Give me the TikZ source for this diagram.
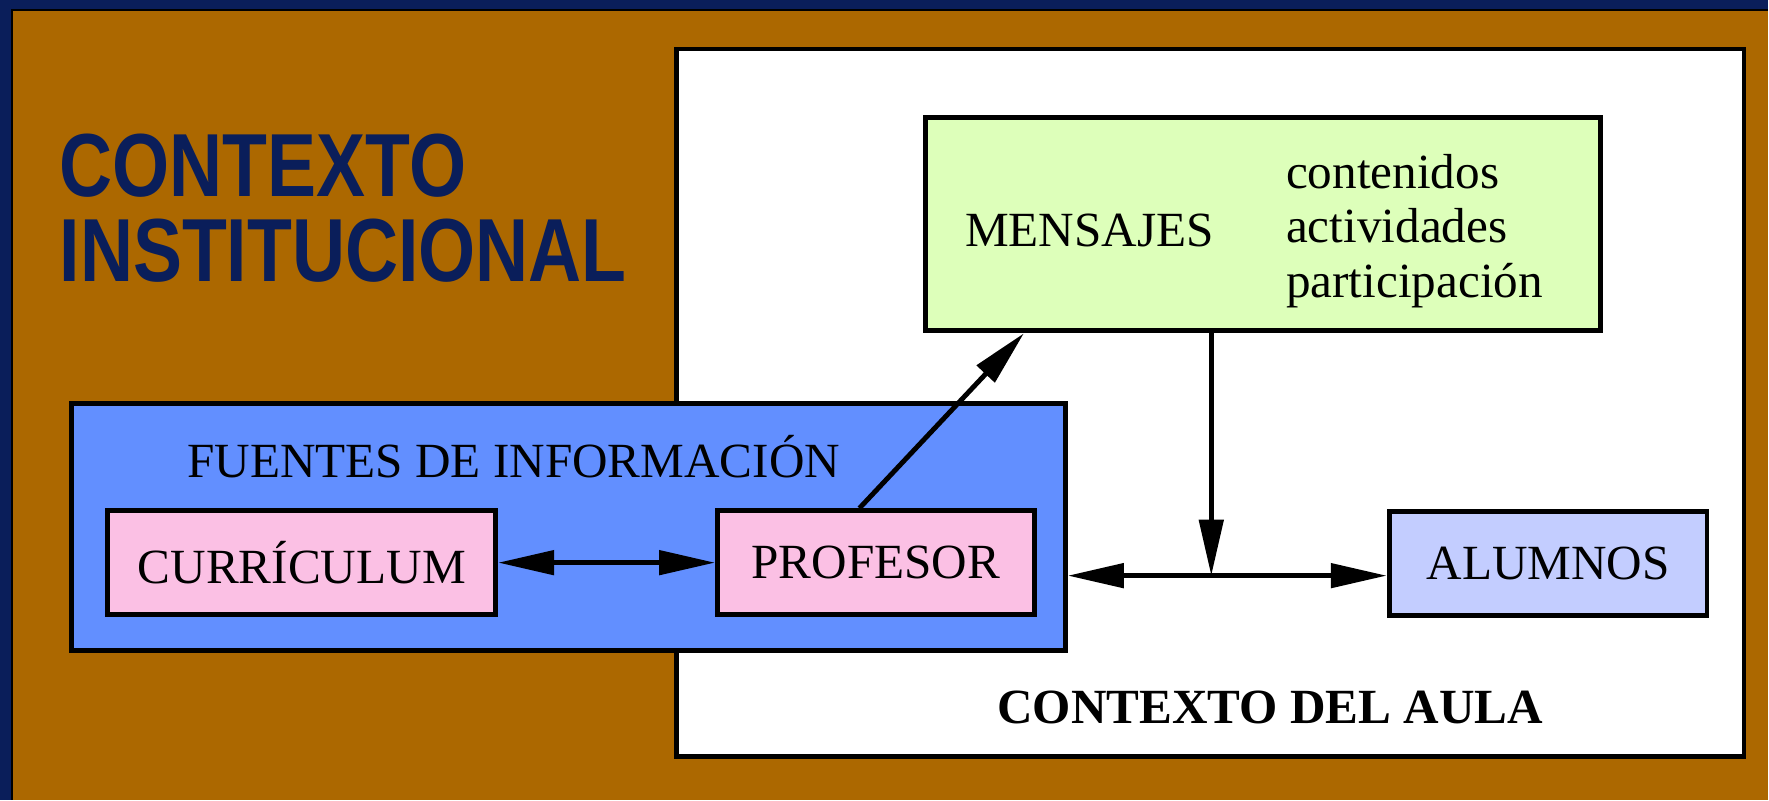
\documentclass[tikz,border=0pt]{standalone}
\usepackage{fontspec}
\setmainfont{Liberation Serif}
\newfontfamily\titlefont{Liberation Sans}
\usepackage{graphicx}
\usepackage{tikz}
\usetikzlibrary{positioning,calc,arrows.meta}
\tikzstyle{panel} = [rectangle, draw=black, line width=1.4pt, inner sep=0pt]
\tikzstyle{element} = [rectangle, draw=black, line width=1.4pt, minimum width=3.17cm, minimum height=1.04cm, text centered, fill=pastelpink]
\tikzstyle{label} = [inner sep=0pt]
\tikzstyle{title} = [text=navyblue, font=\titlefont\bfseries\fontsize{25.5}{30}\selectfont, inner sep=0pt]
\tikzstyle{arrow} = [line width=1.4pt, -{Triangle[length=5.6mm,width=2.4mm]}]
\tikzstyle{dblarrow} = [line width=1.4pt, {Triangle[length=5.6mm,width=2.4mm]}-{Triangle[length=5.6mm,width=2.4mm]}]
\definecolor{navyblue}{RGB}{10,30,90}
\definecolor{ochre}{RGB}{172,104,0}
\definecolor{pastelgreen}{RGB}{221,255,186}
\definecolor{cornflower}{RGB}{98,143,255}
\definecolor{pastelpink}{RGB}{251,192,228}
\definecolor{pastelblue}{RGB}{195,205,255}
\newcommand{\narrowtext}[1]{\scalebox{0.82}[1]{#1}}

\begin{document}
\begin{tikzpicture}[font=\fontsize{14}{15.5}\selectfont]
        % Background -------------------------------------------------------------------------------
        \fill[navyblue] (0,0) rectangle (17.69,8);
        \fill[ochre] (0.12,0) rectangle (17.69,7.90);
        \draw[black, line width=0.6pt] (0.12,0) -- (0.12,7.90) -- (17.69,7.90);
        \useasboundingbox (0,0) rectangle (17.69,8);
        % Institutional context --------------------------------------------------------------------
        \node[title, anchor=base west](inst_top) at (0.59,6.03){\narrowtext{CONTEXTO}};
        \node[title, anchor=base west](inst_bottom) at (0.59,5.18){\narrowtext{INSTITUCIONAL}};
        % Classroom context ------------------------------------------------------------------------
        \node[panel, fill=white, minimum width=10.68cm, minimum height=7.08cm](aula) at (12.11,3.97){};
        \node[label, font=\bfseries\fontsize{14}{15}\selectfont](aula_label) at (12.71,0.92){CONTEXTO DEL AULA};
        % Messages
        \node[panel, fill=pastelgreen, minimum width=6.75cm, minimum height=2.13cm](mensajes) at (12.635,5.755){};
        \node[label, anchor=west](mensajes_label) at (9.65,5.69){MENSAJES};
        \node[label, align=left, right=0.71cm of mensajes_label](mensajes_list){contenidos\\actividades\\participación};
        % Students
        \node[element, fill=pastelblue, minimum width=3.18cm](alumnos) at (15.49,2.365){ALUMNOS};
        % Information sources ----------------------------------------------------------------------
        \node[panel, fill=cornflower, minimum width=9.94cm, minimum height=2.47cm](fuentes) at (5.69,2.725){};
        \node[label](fuentes_label) at (5.14,3.43){FUENTES DE INFORMACIÓN};
        \node[element, minimum width=3.88cm](curriculum) at (3.02,2.37){CURRÍCULUM};
        \node[element, right=2.17cm of curriculum](profesor){PROFESOR};
        % Arrows -----------------------------------------------------------------------------------
        \coordinate (junction) at (12.12,2.24);
        \draw[dblarrow] (curriculum) -- (profesor);
        \draw[arrow] ([xshift=-1.65mm]profesor.north) -- ([xshift=10.1mm]mensajes.south west);
        \draw[arrow] (mensajes.south -| junction) -- (junction);
        \draw[dblarrow] (fuentes.east |- junction) -- (alumnos.west |- junction);
    \end{tikzpicture}
\end{document}
